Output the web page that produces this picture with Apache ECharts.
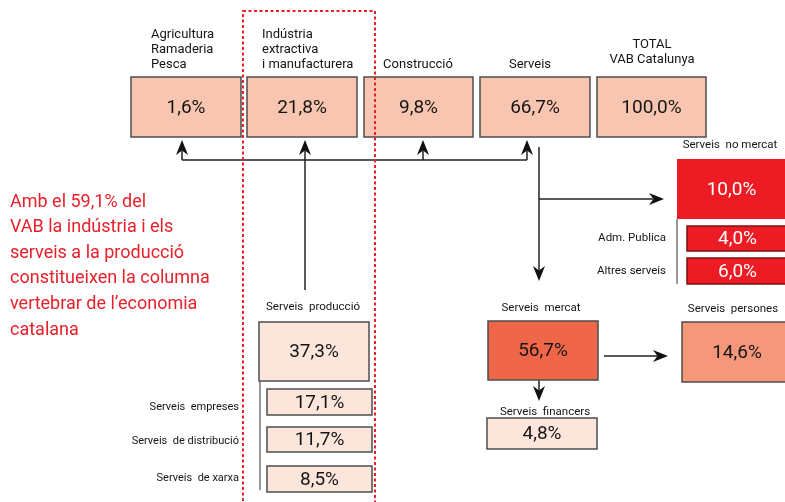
<!DOCTYPE html>
<html>
<head>
<meta charset="utf-8">
<script src="https://cdn.jsdelivr.net/npm/echarts@6/dist/echarts.min.js"></script>
<style>
html,body{margin:0;padding:0;background:#fff;}
#chart{width:785px;height:502px;}
</style>
</head>
<body>
<div id="chart"></div>
<script>
// ---------- DATA ----------
const topCategories = ['Agricultura\nRamaderia\nPesca', 'Indústria\nextractiva\ni manufacturera', 'Construcció', 'Serveis', 'TOTAL\nVAB Catalunya'];
const topValues = [1.6, 21.8, 9.8, 66.7, 100.0];
const noMercatCategories = ['Serveis  no mercat', 'Adm. Publica', 'Altres serveis'];
const noMercatValues = [10.0, 4.0, 6.0];
const mercatCategories = ['Serveis  mercat', 'Serveis  persones', 'Serveis  financers'];
const mercatValues = [56.7, 14.6, 4.8];
const produccioCategories = ['Serveis  producció', 'Serveis  empreses', 'Serveis  de distribució', 'Serveis  de xarxa'];
const produccioValues = [37.3, 17.1, 11.7, 8.5];
const noteLines = ['Amb el 59,1% del', 'VAB la indústria i els', 'serveis a la producció', 'constitueixen la columna', 'vertebrar de l\u2019economia', 'catalana'];

// ---------- LAYOUT / STYLE (diagram space, 785 x 502) ----------
const FONT = 'Roboto, "Noto Sans", sans-serif';
const C = {
  peach: '#F8C6B0', pale: '#FCE6DC', red: '#ED1C24', coral: '#EF6649', salmon: '#F4977B',
  border: '#4d4d4d', ink: '#151515', noteRed: '#E8202A', grey: '#777'
};
const topLayout = [
  {rect: [131, 77, 241, 137], lx: 151, ly: 72, la: 'left'},
  {rect: [247, 77, 357, 137], lx: 262, ly: 72, la: 'left'},
  {rect: [364, 77, 473, 137], lx: 418, ly: 72, la: 'center'},
  {rect: [480, 77, 590, 137], lx: 530, ly: 72, la: 'center'},
  {rect: [597, 77, 706, 137], lx: 652, ly: 67, la: 'center'}
];
const noMercatLayout = [
  {rect: [677, 159, 786, 219], lx: 730, ly: 152, la: 'center', stroke: null},
  {rect: [687, 226, 788, 251], lx: 666, ly: 245, la: 'right', stroke: '#7a1212'},
  {rect: [687, 258, 788, 284], lx: 666, ly: 278, la: 'right', stroke: '#7a1212'}
];
const mercatLayout = [
  {rect: [488, 321, 598, 380], lx: 541, ly: 315, la: 'center', fill: C.coral},
  {rect: [682, 322, 792, 382], lx: 733, ly: 316, la: 'center', fill: C.salmon},
  {rect: [487, 418, 597, 449], lx: 545, ly: 419, la: 'center', fill: C.pale}
];
const produccioLayout = [
  {rect: [259, 322, 369, 381], lx: 313, ly: 314, la: 'center'},
  {rect: [267, 389, 372, 415], lx: 239, ly: 414, la: 'right'},
  {rect: [267, 427, 372, 452], lx: 239, ly: 448, la: 'right'},
  {rect: [267, 466, 372, 492], lx: 239, ly: 485, la: 'right'}
];

const fmt = v => v.toFixed(1).replace('.', ',') + '%';

// Build box table from data + layout
const boxes = [];
topCategories.forEach((c, i) => boxes.push(Object.assign({name: c, value: topValues[i], fill: C.peach, stroke: C.border, color: C.ink, fs: 19, lfs: 13, lh: 15}, topLayout[i])));
noMercatCategories.forEach((c, i) => boxes.push(Object.assign({name: c, value: noMercatValues[i], fill: C.red, color: '#fff', fs: 19, lfs: 11.5, lh: 14}, noMercatLayout[i])));
mercatCategories.forEach((c, i) => boxes.push(Object.assign({name: c, value: mercatValues[i], stroke: C.border, color: C.ink, fs: 19, lfs: 11.5, lh: 14}, mercatLayout[i])));
produccioCategories.forEach((c, i) => boxes.push(Object.assign({name: c, value: produccioValues[i], fill: C.pale, stroke: C.border, color: C.ink, fs: 19, lfs: i ? 11 : 11.5, lh: 14}, produccioLayout[i])));

// connectors: points, arrow at end?, colour
const connectors = [
  {pts: [[182, 160], [527, 160]], arrow: false, color: '#222'},
  {pts: [[182, 160], [182, 140]], arrow: true, color: '#222'},
  {pts: [[423, 160], [423, 140]], arrow: true, color: '#222'},
  {pts: [[527, 160], [527, 140]], arrow: true, color: '#222'},
  {pts: [[305, 290], [305, 140]], arrow: true, color: '#222'},
  {pts: [[539, 147], [539, 281]], arrow: true, color: '#222'},
  {pts: [[539, 199], [664, 199]], arrow: true, color: '#222'},
  {pts: [[604, 356], [668, 356]], arrow: true, color: '#222'},
  {pts: [[539, 380], [539, 401]], arrow: true, color: '#222'},
  {pts: [[677, 219], [677, 284]], arrow: false, color: C.grey},
  {pts: [[260, 381], [260, 490]], arrow: false, color: C.grey}
];
const frameRect = [243, 11, 375, 520];
const noteAnchor = [10, 202];
const noteLineHeight = 25.6;

// ---------- CHART ----------
const chart = echarts.init(document.getElementById('chart'), null, {renderer: 'canvas'});

function renderBox(params, api) {
  const b = boxes[params.dataIndex];
  const p0 = api.coord([api.value(0), api.value(1)]);
  const p1 = api.coord([api.value(2), api.value(3)]);
  const lp = api.coord([b.lx, b.ly]);
  const children = [
    {type: 'rect', shape: {x: p0[0], y: p0[1], width: p1[0] - p0[0], height: p1[1] - p0[1]},
     style: {fill: b.fill, stroke: b.stroke || null, lineWidth: b.stroke ? 1.5 : 0}},
    {type: 'text', style: {text: fmt(api.value(4)), x: (p0[0] + p1[0]) / 2, y: (p0[1] + p1[1]) / 2 + 1,
      align: 'center', verticalAlign: 'middle', fontFamily: FONT, fontSize: b.fs, fill: b.color}},
    {type: 'text', style: {text: b.name, x: lp[0], y: lp[1], align: b.la, verticalAlign: 'bottom',
      fontFamily: FONT, fontSize: b.lfs, lineHeight: b.lh, fill: '#151515'}}
  ];
  return {type: 'group', children: children};
}

function renderConnector(params, api) {
  const c = connectors[params.dataIndex];
  const pts = c.pts.map(p => api.coord(p));
  const children = [];
  let linePts = pts.slice();
  if (c.arrow) {
    const t = pts[pts.length - 1], s = pts[pts.length - 2];
    const dx = t[0] - s[0], dy = t[1] - s[1], len = Math.hypot(dx, dy);
    const ux = dx / len, uy = dy / len, nx = -uy, ny = ux;
    const L = 15, W = 6, N = 4.5;
    const notch = [t[0] - ux * (L - N), t[1] - uy * (L - N)];
    linePts[linePts.length - 1] = notch;
    children.push({type: 'polygon', shape: {points: [
      t, [t[0] - ux * L + nx * W, t[1] - uy * L + ny * W], notch, [t[0] - ux * L - nx * W, t[1] - uy * L - ny * W]
    ]}, style: {fill: '#111'}});
  }
  children.unshift({type: 'polyline', shape: {points: linePts}, style: {stroke: c.color, lineWidth: 1.5, fill: null}});
  return {type: 'group', children: children};
}

function renderFrame(params, api) {
  const p0 = api.coord([api.value(0), api.value(1)]);
  const p1 = api.coord([api.value(2), api.value(3)]);
  return {type: 'rect', shape: {x: p0[0], y: p0[1], width: p1[0] - p0[0], height: p1[1] - p0[1]},
    style: {fill: null, stroke: C.noteRed, lineWidth: 2, lineDash: [3, 2.5]}};
}

function renderNote(params, api) {
  const p = api.coord([api.value(0), api.value(1)]);
  return {type: 'text', style: {text: noteLines[params.dataIndex], x: p[0], y: p[1], align: 'left', verticalAlign: 'middle',
    fontFamily: FONT, fontSize: 18, fill: C.noteRed}};
}

chart.setOption({
  animation: false,
  backgroundColor: '#fff',
  grid: {left: 0, right: 0, top: 0, bottom: 0},
  xAxis: {type: 'value', min: 0, max: 785, show: false},
  yAxis: {type: 'value', min: 0, max: 502, inverse: true, show: false},
  series: [
    {type: 'custom', renderItem: renderConnector, clip: false,
     data: connectors.map(c => c.pts[0])},
    {type: 'custom', renderItem: renderBox, clip: false,
     data: boxes.map(b => [b.rect[0], b.rect[1], b.rect[2], b.rect[3], b.value])},
    {type: 'custom', renderItem: renderFrame, clip: false, data: [frameRect]},
    {type: 'custom', renderItem: renderNote, clip: false,
     data: noteLines.map((t, i) => [noteAnchor[0], noteAnchor[1] + i * noteLineHeight])}
  ]
});
</script>
</body>
</html>
